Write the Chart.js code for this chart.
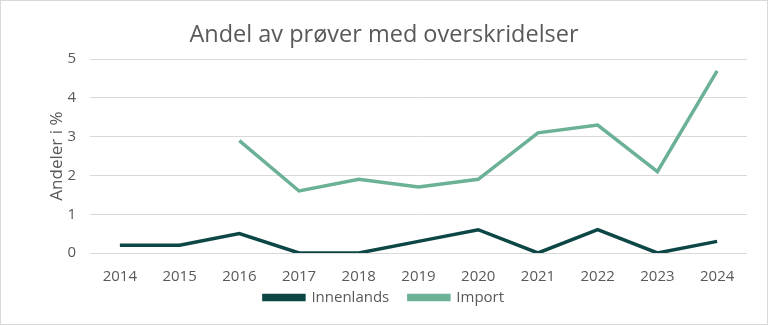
<!DOCTYPE html>
<html>
<head>
<meta charset="utf-8">
<script src="https://cdn.jsdelivr.net/npm/chart.js@4.4.1/dist/chart.umd.min.js"></script>
<style>
    html, body { margin: 0; padding: 0; background: #fff; }
    #wrap { width: 766px; height: 323px; border: 1px solid #d9d9d9; position: relative; }
</style>
</head>
<body>
<div id="wrap"><canvas id="chart" width="766" height="323"></canvas></div>
<script>
// Data
const years = ['2014', '2015', '2016', '2017', '2018', '2019', '2020', '2021', '2022', '2023', '2024'];
const innenlands = [0.2, 0.2, 0.5, 0, 0, 0.3, 0.6, 0, 0.6, 0, 0.3];
const importVals = [null, null, 2.9, 1.6, 1.9, 1.7, 1.9, 3.1, 3.3, 2.1, 4.7];

const textColor = '#595959';
const fontFam = "'Open Sans', 'Noto Sans', sans-serif";

new Chart(document.getElementById('chart'), {
    type: 'line',
    data: {
        labels: years,
        datasets: [
            {
                label: 'Innenlands',
                data: innenlands,
                borderColor: '#0c4745',
                backgroundColor: '#0c4745',
                borderWidth: 3.5,
                pointRadius: 0,
                tension: 0
            },
            {
                label: 'Import',
                data: importVals,
                borderColor: '#6ab195',
                backgroundColor: '#6ab195',
                borderWidth: 3.5,
                pointRadius: 0,
                tension: 0
            }
        ]
    },
    options: {
        responsive: false,
        animation: false,
        layout: { padding: { left: 20, right: 20, top: 4, bottom: 9 } },
        plugins: {
            title: {
                display: true,
                text: 'Andel av prøver med overskridelser',
                color: textColor,
                font: { family: fontFam, size: 23.5, weight: 'normal' },
                padding: { top: 16, bottom: 10 }
            },
            legend: {
                position: 'bottom',
                labels: {
                    color: textColor,
                    font: { family: fontFam, size: 15 },
                    boxWidth: 40,
                    boxHeight: 4,
                    padding: 4,
                    // litt ekstra luft mellom de to seriene
                    generateLabels: (chart) => {
                        const items = Chart.defaults.plugins.legend.labels.generateLabels(chart);
                        items[0].text = items[0].text + '    ';
                        return items;
                    }
                }
            },
            tooltip: { enabled: false }
        },
        scales: {
            x: {
                offset: true,
                afterFit: (scale) => { scale.height -= 7; },
                grid: { display: false },
                border: { display: false },
                ticks: { color: textColor, font: { family: fontFam, size: 15 }, maxRotation: 0, padding: 7 }
            },
            y: {
                min: 0,
                max: 5,
                afterFit: (scale) => { scale.width = 69; },
                grid: { color: '#d9d9d9', lineWidth: 1, drawTicks: false },
                border: { display: false },
                ticks: { stepSize: 1, color: textColor, font: { family: fontFam, size: 15 }, padding: 14 },
                title: {
                    display: true,
                    text: 'Andeler i %',
                    color: textColor,
                    font: { family: fontFam, size: 17 },
                    padding: { top: 26, bottom: 0 }
                }
            }
        }
    }
});
</script>
</body>
</html>
